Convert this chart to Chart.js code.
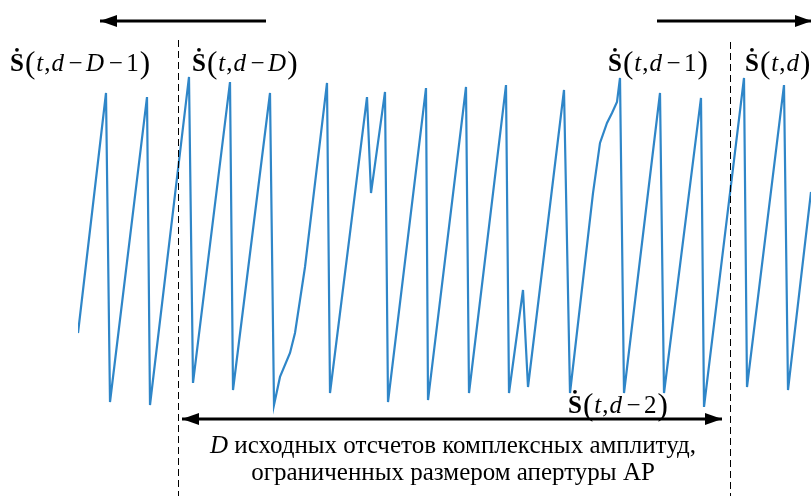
<!DOCTYPE html>
<html>
<head>
<meta charset="utf-8">
<script src="https://cdn.jsdelivr.net/npm/chart.js@4.4.0/dist/chart.umd.min.js"></script>
<style>
  html, body { margin: 0; padding: 0; background: #fff; }
  #wrap { width: 811px; height: 496px; position: relative; }
</style>
</head>
<body>
<div id="wrap"><canvas id="myChart" width="811" height="496"></canvas></div>
<script>
// отсчеты (x) и значения фазового сигнала (y)
const sampleX = [
  0, 0.7, 0.8, 1.725, 1.8, 2.775, 2.875, 3.8, 3.875, 4.8, 4.9,
  5.05, 5.3, 5.425, 5.55, 5.675, 6.225, 6.3, 7.225, 7.325, 7.675, 7.75,
  8.7, 8.75, 9.7, 9.775, 10.7, 10.775, 11.125, 11.25, 12.15, 12.3,
  12.875, 13.05, 13.225, 13.35, 13.475, 13.55, 13.65, 14.55, 14.65,
  15.575, 15.65, 16.65, 16.725, 17.65, 17.75, 18.325
];
const amplitude = [
  -0.62, 0.98, -1.08, 0.953, -1.1, 1.087, -0.953, 1.053, -1.0, 0.98, -1.1,
  -0.913, -0.753, -0.62, -0.4, -0.18, 1.047, -1.02, 0.953, 0.313, 0.987, -1.08,
  1.013, -1.067, 1.02, -1.02, 1.033, -1.02, -0.333, -0.98, 1.0, -1.02,
  0.313, 0.647, 0.78, 0.847, 0.92, 1.08, -1.02, 0.98, -1.02,
  0.947, -1.113, 1.08, -0.98, 1.033, -1.0, 0.32
];

// границы апертуры (в отсчетах)
const apertureStart = 2.5;
const apertureEnd = 16.3;

const points = sampleX.map((x, i) => ({ x: x, y: amplitude[i] }));

// рисуем формулу вида S(t,d-...) по кусочкам
function drawFormula(ctx, x, baseline, parts, size) {
  let cx = x;
  parts.forEach(p => {
    let txt = p[0], kind = p[1];
    if (kind == 'b') {
      ctx.font = 'bold ' + size + 'px "Liberation Serif"';
      let w = ctx.measureText(txt).width;
      ctx.fillText(txt, cx, baseline);
      // точка над S
      ctx.beginPath();
      ctx.arc(cx + w / 2, baseline - size * 0.85, size * 0.075, 0, Math.PI * 2);
      ctx.fill();
      cx += w + 1;
    } else if (kind == 'p') {
      ctx.font = (size * 1.25) + 'px "Liberation Serif"';
      ctx.fillText(txt, cx, baseline + size * 0.06);
      cx += ctx.measureText(txt).width + 1;
    } else if (kind == 'i') {
      ctx.font = 'italic ' + size + 'px "Liberation Serif"';
      ctx.fillText(txt, cx, baseline);
      cx += ctx.measureText(txt).width + 1;
    } else if (kind == 'op') {
      ctx.font = size + 'px "Liberation Serif"';
      cx += size * 0.14;
      ctx.fillText(txt, cx, baseline);
      cx += ctx.measureText(txt).width + size * 0.14;
    } else {
      ctx.font = size + 'px "Liberation Serif"';
      ctx.fillText(txt, cx, baseline);
      cx += ctx.measureText(txt).width + 1;
    }
  });
}

function formula(tail) {
  let parts = [['S', 'b'], ['(', 'p'], ['t', 'i'], [',', 'r'], ['d', 'i']];
  return parts.concat(tail, [[')', 'p']]);
}

function arrowHead(ctx, x, y, dir) {
  ctx.beginPath();
  ctx.moveTo(x, y);
  ctx.lineTo(x - dir * 17, y - 6);
  ctx.lineTo(x - dir * 17, y + 6);
  ctx.closePath();
  ctx.fill();
}

function arrow(ctx, x1, x2, y, both) {
  ctx.lineWidth = 3;
  ctx.beginPath();
  ctx.moveTo(x1, y);
  ctx.lineTo(x2, y);
  ctx.stroke();
  arrowHead(ctx, x2, y, x2 > x1 ? 1 : -1);
  if (both) arrowHead(ctx, x1, y, x1 > x2 ? 1 : -1);
}

const annotations = {
  id: 'annotations',
  afterDraw(chart) {
    const ctx = chart.ctx;
    const xs = chart.scales.x;
    ctx.save();
    ctx.fillStyle = '#000';
    ctx.strokeStyle = '#000';

    // пунктирные границы
    ctx.lineWidth = 1;
    ctx.setLineDash([7, 4]);
    [apertureStart, apertureEnd].forEach((v, i) => {
      let px = Math.round(xs.getPixelForValue(v)) + 0.5;
      ctx.beginPath();
      ctx.moveTo(px, i == 0 ? 40 : 42);
      ctx.lineTo(px, 496);
      ctx.stroke();
    });
    ctx.setLineDash([]);

    // стрелки сверху и снизу
    arrow(ctx, 266, 100, 21, false);
    arrow(ctx, 657, 812, 21, false);
    arrow(ctx, xs.getPixelForValue(apertureStart) + 4, xs.getPixelForValue(apertureEnd) - 8, 419, true);

    // подписи отсчетов
    const op = (s) => [['−', 'op']].concat(s);
    drawFormula(ctx, 10, 71, formula(op([['D', 'i']]).concat(op([['1', 'r']]))), 25);
    drawFormula(ctx, 192, 71, formula(op([['D', 'i']])), 25);
    drawFormula(ctx, 608, 71, formula(op([['1', 'r']])), 25);
    drawFormula(ctx, 745, 71, formula([]), 25);
    drawFormula(ctx, 568, 413, formula(op([['2', 'r']])), 25);

    // пояснение
    const fs = 25;
    ctx.textAlign = 'left';
    let rest = ' исходных отсчетов комплексных амплитуд,';
    ctx.font = 'italic ' + fs + 'px "Liberation Serif"';
    let wD = ctx.measureText('D').width;
    ctx.font = fs + 'px "Liberation Serif"';
    let wRest = ctx.measureText(rest).width;
    let start = 453 - (wD + wRest) / 2;
    ctx.font = 'italic ' + fs + 'px "Liberation Serif"';
    ctx.fillText('D', start, 453);
    ctx.font = fs + 'px "Liberation Serif"';
    ctx.fillText(rest, start + wD, 453);
    ctx.textAlign = 'center';
    ctx.fillText('ограниченных размером апертуры АР', 453, 480);
    ctx.restore();
  }
};

new Chart(document.getElementById('myChart'), {
  type: 'scatter',
  data: {
    datasets: [{
      data: points,
      showLine: true,
      borderColor: '#2f86c8',
      borderWidth: 2.2,
      pointRadius: 0,
      tension: 0
    }]
  },
  options: {
    responsive: false,
    animation: false,
    layout: { padding: { left: 78, right: 0, top: 60, bottom: 76 } },
    plugins: { legend: { display: false }, tooltip: { enabled: false } },
    scales: {
      x: { type: 'linear', min: 0, max: 18.325, display: false },
      y: { type: 'linear', min: -1.2, max: 1.2, display: false }
    }
  },
  plugins: [annotations]
});
</script>
</body>
</html>
